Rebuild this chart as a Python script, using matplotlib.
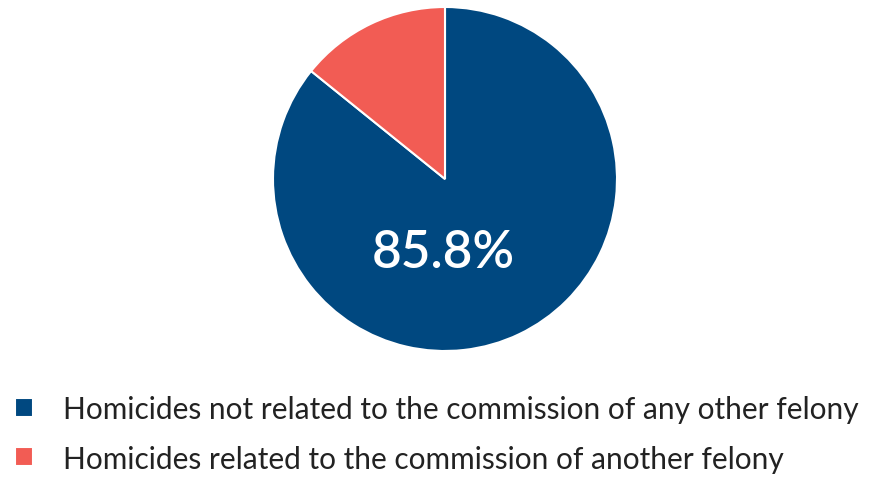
import matplotlib.pyplot as plt

labels = ['Homicides not related to the commission of any other felony',
          'Homicides related to the commission of another felony']
shares = [85.8, 14.2]
colors = ['#004880', '#F25C54']

plt.rcParams['font.family'] = ['Lato', 'DejaVu Sans']

fig = plt.figure(figsize=(8.78, 4.81), dpi=100)
# pie centre ~ (445, 180) px, radius ~172 px
r = 172
ax = fig.add_axes([(445 - r) / 878, 1 - (180 + r) / 481, 2 * r / 878, 2 * r / 481])
wedges, _ = ax.pie(shares, colors=colors, startangle=90, counterclock=False,
                   wedgeprops=dict(edgecolor='white', linewidth=1.5))
ax.set_aspect('auto')
ax.set_xlim(-1, 1)
ax.set_ylim(-1, 1)
ax.text(-0.01, -0.43, f'{shares[0]}%', color='white', fontsize=37,
        fontweight='semibold', ha='center', va='center')

fig.legend(wedges, labels, loc='upper left', bbox_to_anchor=(15 / 878, 1 - 396 / 481),
           frameon=False, fontsize=21.5, handlelength=0.6, handleheight=0.6,
           handletextpad=1.0, labelspacing=0.72, labelcolor='#222222',
           borderpad=0, borderaxespad=0)

fig.savefig('out.png', dpi=100)
